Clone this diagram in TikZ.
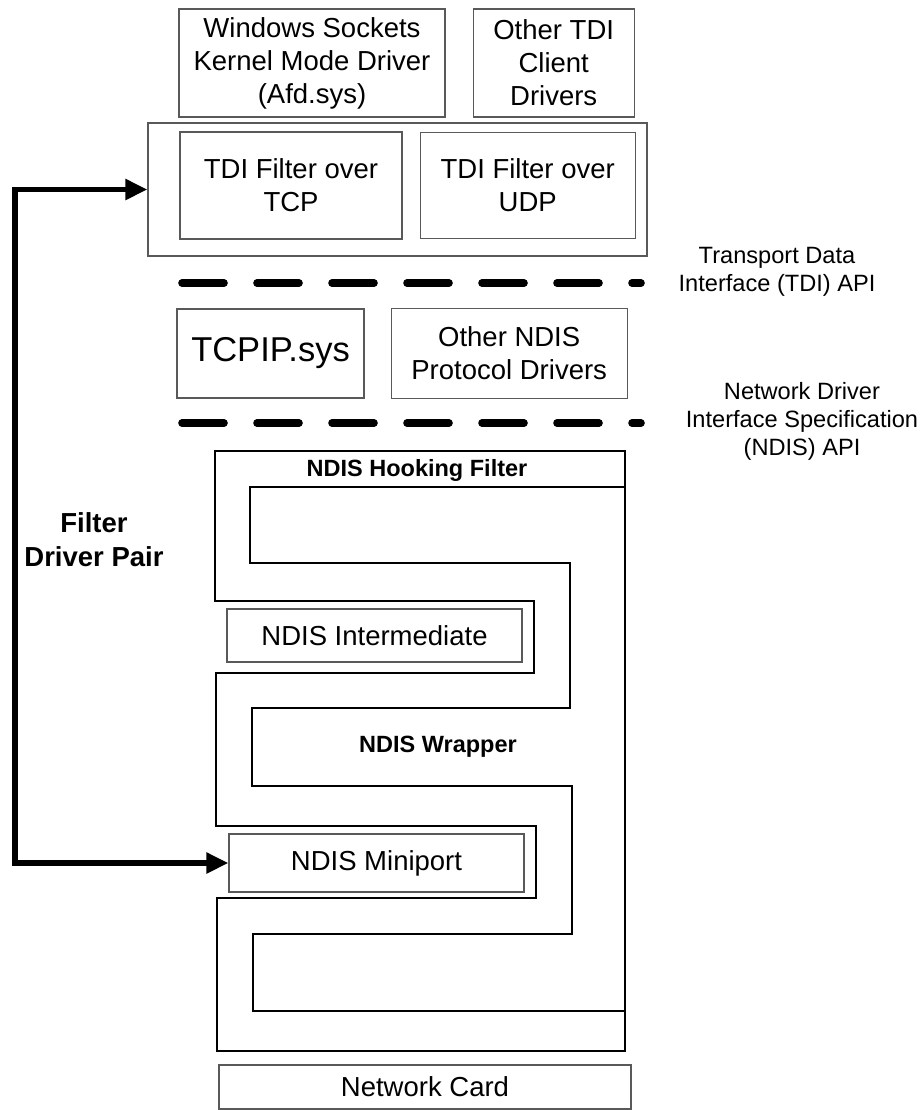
\documentclass[tikz,border=0pt]{standalone}
\usepackage{fontspec}
\setmainfont{Liberation Sans}
\usetikzlibrary{arrows.meta, positioning}

\begin{document}
\begin{tikzpicture}[
        x=0.5pt, y=-0.5pt,
        layerbox/.style={
            rectangle,
            draw=black!65,
            line width=0.6pt,
            inner sep=0pt,
            align=center,
            font=\fontsize{13.75}{16.5}\selectfont
        },
        apiline/.style={
            line width=3.8pt,
            line cap=round,
            dash pattern=on 21pt off 16.5pt
        },
        wrapline/.style={
            line width=1.1pt
        },
        apilabel/.style={
            align=center,
            font=\fontsize{11.8}{14}\selectfont
        },
        boldlabel/.style={
            font=\fontsize{11.75}{14}\selectfont\bfseries
        },
        pairarrow/.style={
            line width=2.6pt,
            {Triangle[length=11pt,width=10pt]}-{Triangle[length=11pt,width=10pt]}
        }
    ]

    \useasboundingbox (0,0) rectangle (924,1110);

    % TDI clients
    \node[layerbox, minimum width=133pt, minimum height=54pt] (wsk) at (312,63)
        {Windows Sockets\\Kernel Mode Driver\\(Afd.sys)};
    \node[layerbox, minimum width=80.5pt, minimum height=54pt, right=13.5pt of wsk] (othertdi)
        {Other TDI\\Client\\Drivers};

    % TDI filters
    \node[layerbox, minimum width=249.5pt, minimum height=66.5pt] (tdiflt) at (397.5,189.5) {};
    \node[layerbox, minimum width=111pt, minimum height=53.5pt] (tcpflt) at (291,185.5)
        {TDI Filter over\\TCP};
    \node[layerbox, minimum width=107.5pt, minimum height=53pt, right=8.5pt of tcpflt] (udpflt)
        {TDI Filter over\\UDP};

    % API boundaries
    \draw[apiline] (182,283) -- (641,283);
    \draw[apiline] (182,423) -- (641,423);
    \node[apilabel] (tdiapi) at (777,272) {Transport Data\\Interface (TDI) API};
    \node[apilabel] (ndisapi) at (802,421) {Network Driver\\Interface Specification\\(NDIS) API};

    % Protocol drivers
    \node[layerbox, minimum width=93.5pt, minimum height=44.5pt,
          font=\fontsize{17.25}{20}\selectfont] (tcpip) at (270.5,353.5) {TCPIP.sys};
    \node[layerbox, minimum width=118pt, minimum height=45pt, right=13pt of tcpip] (ndisproto)
        {Other NDIS\\Protocol Drivers};

    % NDIS hooking filter and wrapper
    \draw[wrapline] (215,451) -- (625,451) -- (625,1051) -- (217,1051) -- (217,898)
        -- (536,898) -- (536,826) -- (216,826) -- (216,673) -- (534,673)
        -- (534,601) -- (215,601) -- cycle;
    \draw[wrapline] (625,487) -- (250,487) -- (250,563) -- (570,563) -- (570,708)
        -- (252,708) -- (252,786) -- (572,786) -- (572,934) -- (253,934)
        -- (253,1011) -- (625,1011);
    \node[boldlabel] (hooking) at (417,470) {NDIS Hooking Filter};
    \node[boldlabel] (wrapper) at (438,747) {NDIS Wrapper};

    \node[layerbox, minimum width=147.5pt, minimum height=26.5pt] (intermediate) at (374.5,635.5)
        {NDIS Intermediate};
    \node[layerbox, minimum width=147.5pt, minimum height=29pt] (miniport) at (376.5,863)
        {NDIS Miniport};
    \node[layerbox, minimum width=206pt, minimum height=22pt] (netcard) at (425,1087)
        {Network Card};

    % Filter driver pair
    \coordinate (bend) at (15,525);
    \draw[pairarrow] (tdiflt.west) -| (bend) |- (miniport.west);
    \node[boldlabel, align=center, font=\fontsize{13.75}{17}\selectfont\bfseries] (pair) at (94,540)
        {Filter\\Driver Pair};

\end{tikzpicture}
\end{document}
